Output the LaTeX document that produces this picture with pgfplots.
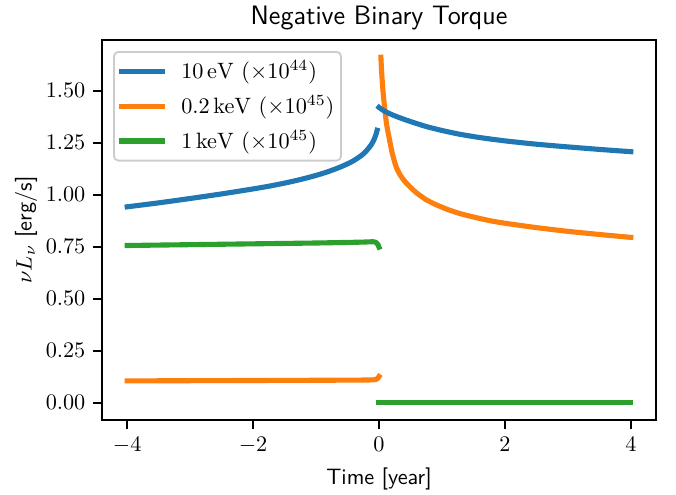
\documentclass[border=0pt]{standalone}
\usepackage{pgfplots}
\pgfplotsset{compat=1.18}
\definecolor{tabblue}{HTML}{1F77B4}
\definecolor{taborange}{HTML}{FF7F0E}
\definecolor{tabgreen}{HTML}{2CA02C}
\begin{document}
\begin{tikzpicture}
\begin{axis}[
  name=ax,
  scale only axis,
  width=249.3pt, height=171pt,
  xmin=-4.4, xmax=4.4, ymin=-0.083, ymax=1.744,
  xtick={-4,-2,0,2,4},
  ytick={0,0.25,0.5,0.75,1,1.25,1.5},
  yticklabel style={/pgf/number format/.cd,fixed,fixed zerofill,precision=2},
  tick pos=left,
  tick align=outside,
  major tick length=4pt,
  every tick/.style={black,line width=0.8pt},
  axis line style={line width=0.8pt},
  title={\sffamily Negative Binary Torque},
  title style={font=\sffamily\large, yshift=-5pt},
  xlabel={Time [year]},
  ylabel={$\nu L_\nu$ [erg/s]},
  ylabel shift=-3pt,
  label style={font=\sffamily},
  legend cell align=left,
  legend style={at={(0.02,0.971)}, anchor=north west, draw=black!20, line width=0.8pt,
    rounded corners=2pt, fill=white, fill opacity=0.8, text opacity=1,
    inner xsep=1pt, inner ysep=2pt, row sep=2pt, font=\normalsize},
  legend image code/.code={\draw[#1, line cap=butt] (0pt,0pt) -- (21pt,0pt); \path (25pt,0pt);},
  every axis plot/.append style={line width=2.3pt, line cap=rect, line join=round, smooth, tension=0.35},
]
\addplot[tabblue] coordinates {
(-4.0,0.942) (-3.5,0.961) (-3.0,0.982) (-2.5,1.004) (-2.0,1.028) (-1.75,1.041)
(-1.5,1.056) (-1.25,1.073) (-1.0,1.093) (-0.8,1.112) (-0.6,1.135) (-0.45,1.156)
(-0.35,1.174) (-0.25,1.196) (-0.18,1.218) (-0.12,1.242) (-0.08,1.265) (-0.05,1.288)
(-0.03,1.310)};
\addlegendentry{$10\,\mathrm{eV}\ (\times 10^{44})$}
\addplot[taborange] coordinates {
(0.03,1.661) (0.04,1.600) (0.06,1.510) (0.087,1.425) (0.12,1.340) (0.167,1.264)
(0.21,1.200) (0.27,1.136) (0.33,1.098) (0.4,1.068) (0.485,1.040) (0.6,1.008)
(0.75,0.976) (0.9,0.953) (1.1,0.928) (1.28,0.910) (1.5,0.893) (1.75,0.876)
(2.0,0.863) (2.5,0.842) (3.0,0.824) (3.5,0.809) (4.0,0.795)};
\addlegendentry{$0.2\,\mathrm{keV}\ (\times 10^{45})$}
\addplot[tabgreen] coordinates {
(-4.0,0.756) (-3.0,0.760) (-2.0,0.764) (-1.0,0.768) (-0.3,0.772) (-0.1,0.774)
(-0.05,0.771) (-0.02,0.762) (0.0,0.748)};
\addlegendentry{$1\,\mathrm{keV}\ (\times 10^{45})$}
\addplot[tabblue, forget plot] coordinates {
(0.0,1.420) (0.03,1.413) (0.1,1.400) (0.22,1.383) (0.35,1.368) (0.5,1.352)
(0.75,1.328) (1.0,1.309) (1.28,1.291) (1.6,1.275) (2.0,1.259) (2.5,1.243)
(3.0,1.230) (3.5,1.218) (4.0,1.207)};
\addplot[taborange, forget plot] coordinates {
(-4.0,0.105) (-3.0,0.106) (-2.0,0.107) (-1.0,0.108) (-0.3,0.109) (-0.1,0.110)
(-0.05,0.112) (-0.02,0.118) (0.0,0.126)};
\addplot[tabgreen, forget plot] coordinates {(0.0,0.0) (4.0,0.0)};
\end{axis}
\pgfresetboundingbox
\path ([xshift=-45.9pt,yshift=-33.3pt]ax.south west) rectangle ([xshift=9pt,yshift=18pt]ax.north east);
\end{tikzpicture}
\end{document}
